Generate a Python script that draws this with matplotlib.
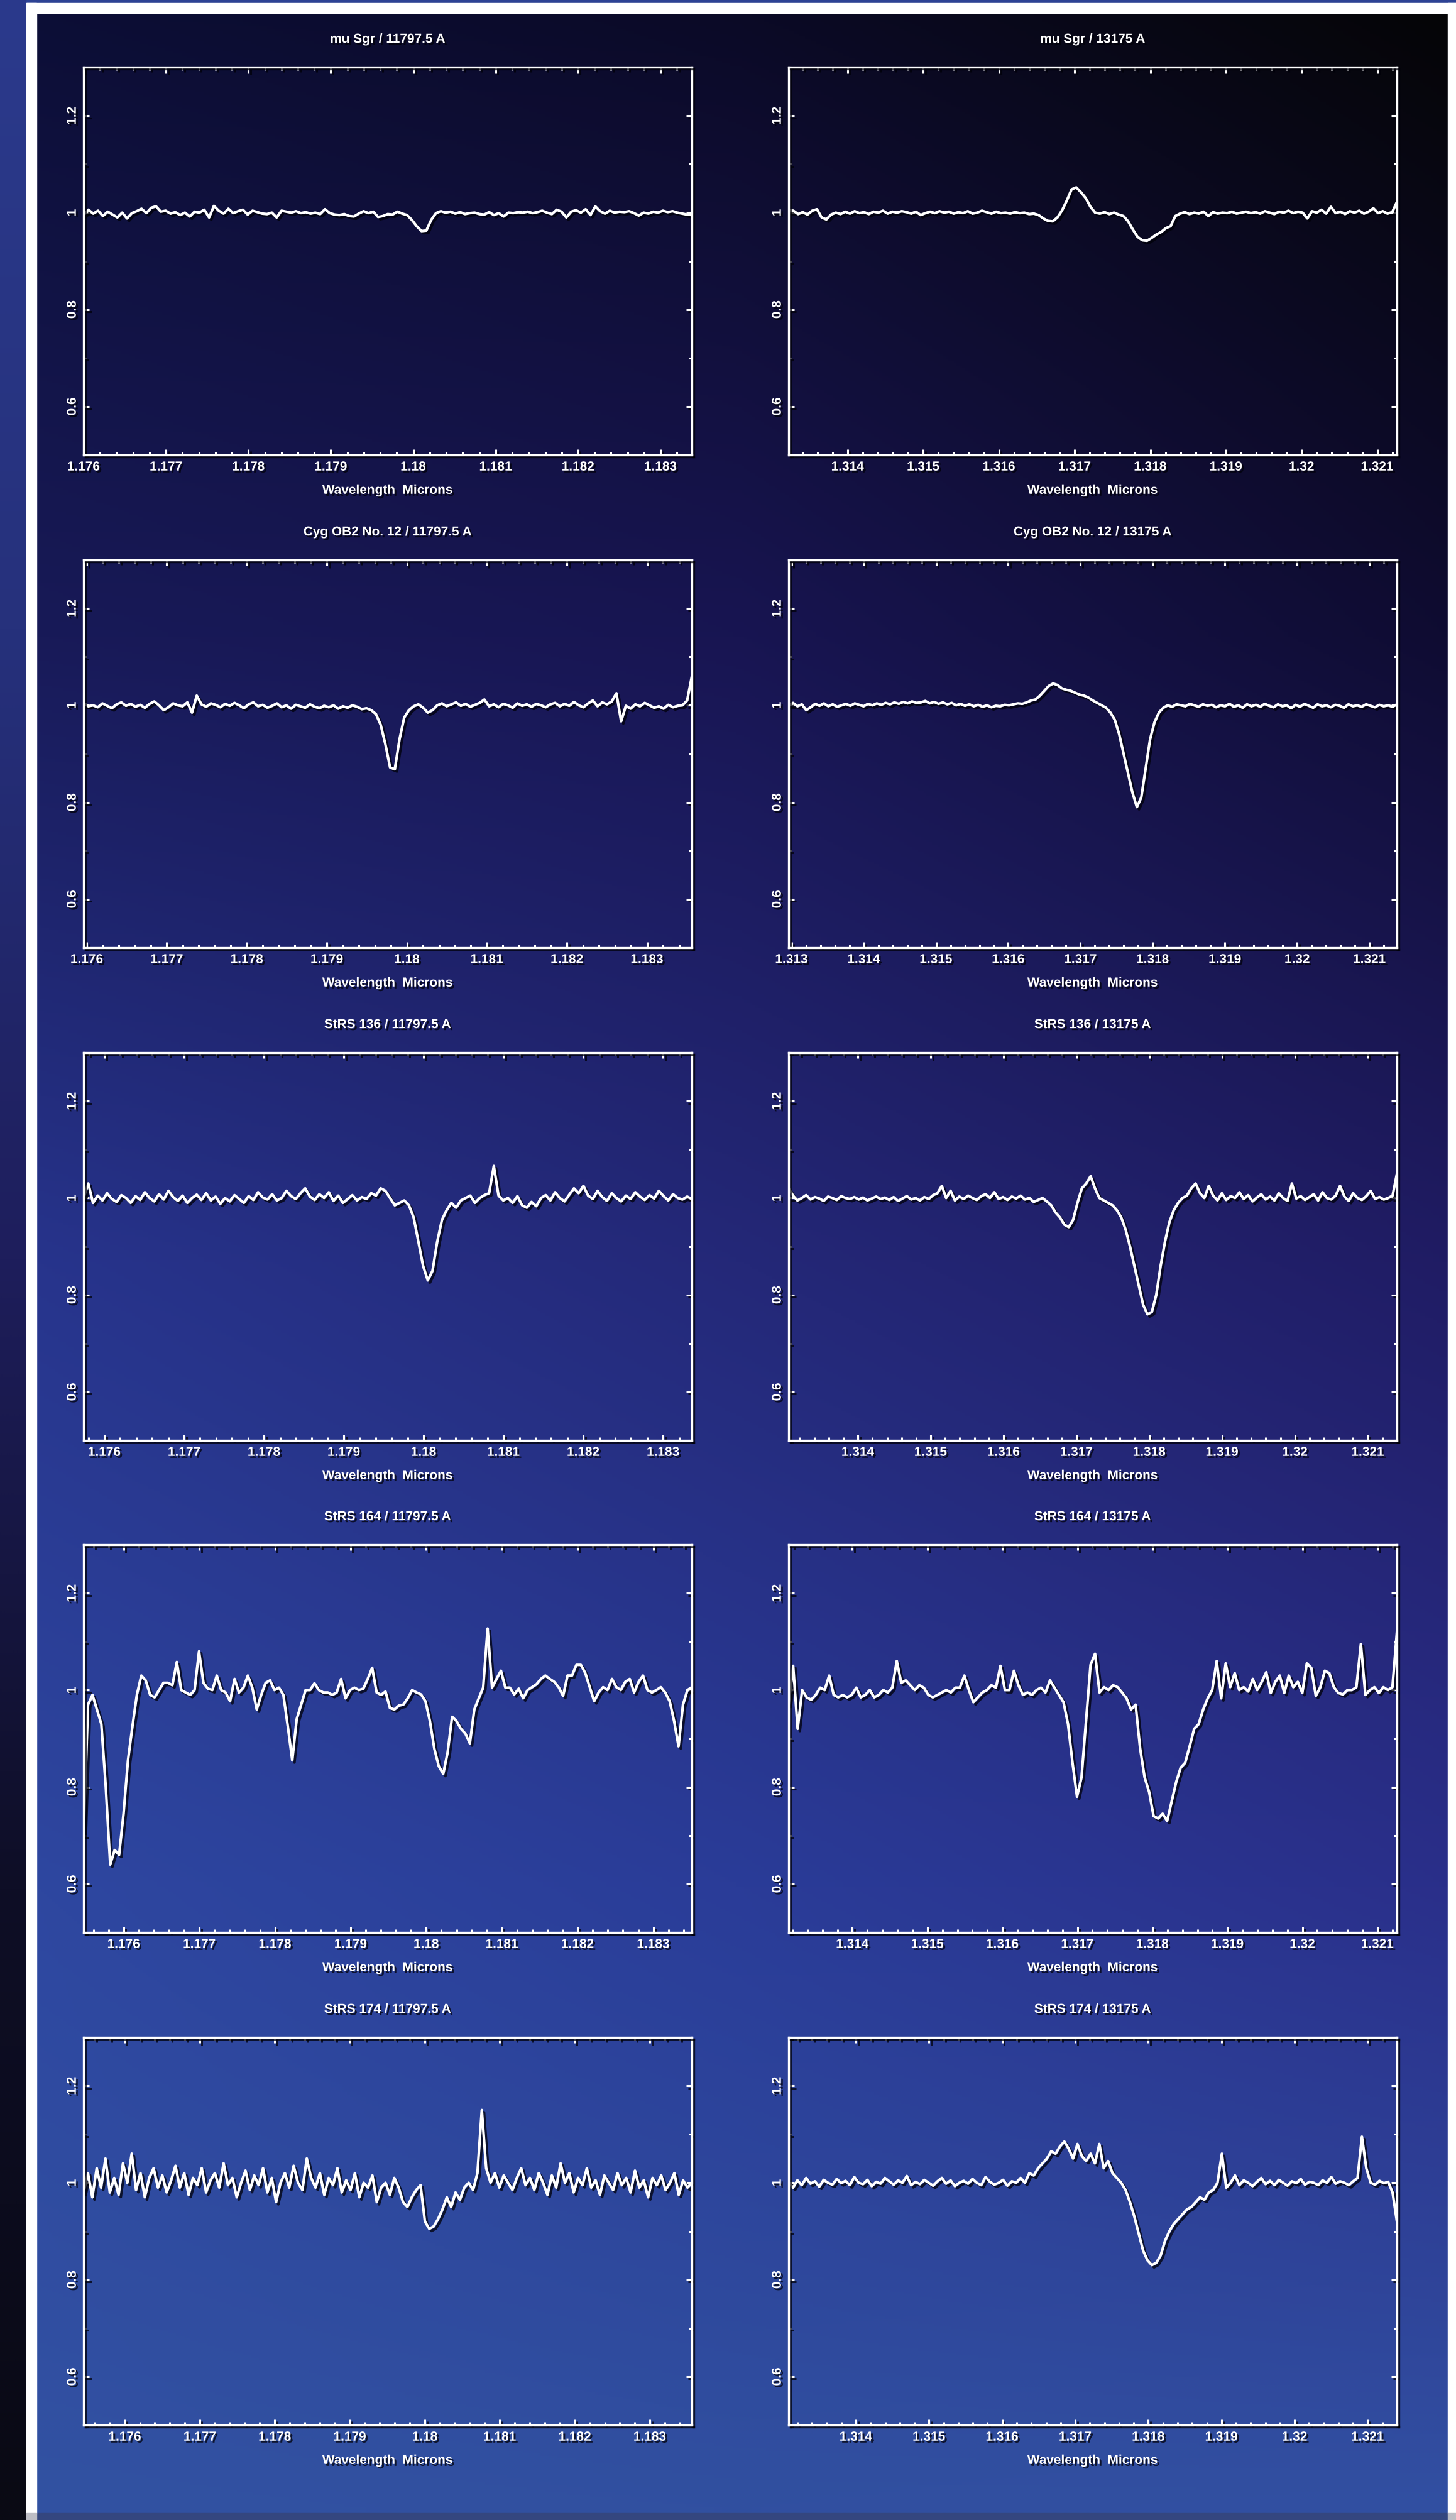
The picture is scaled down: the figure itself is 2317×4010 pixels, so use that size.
import numpy as np
import matplotlib
matplotlib.use("Agg")
import matplotlib.pyplot as plt
from matplotlib import patheffects as pe
from matplotlib.colors import to_rgb
from matplotlib.patches import Rectangle
from matplotlib.ticker import MultipleLocator

plt.rcParams['font.family'] = ['Liberation Sans', 'DejaVu Sans']
plt.rcParams['font.weight'] = 'bold'

# panel titles (star / line), left column = 11797.5 A, right column = 13175 A
titles = ["mu Sgr / 11797.5 A", "mu Sgr / 13175 A",
          "Cyg OB2 No. 12 / 11797.5 A", "Cyg OB2 No. 12 / 13175 A",
          "StRS 136 / 11797.5 A", "StRS 136 / 13175 A",
          "StRS 164 / 11797.5 A", "StRS 164 / 13175 A",
          "StRS 174 / 11797.5 A", "StRS 174 / 13175 A"]

# wavelength window of every panel (microns)
wl_windows = [(1.17600, 1.18338), (1.31322, 1.32126),
              (1.17596, 1.18356), (1.31296, 1.32138),
              (1.17574, 1.18336), (1.31305, 1.32140),
              (1.17547, 1.18351), (1.31315, 1.32126),
              (1.17545, 1.18356), (1.31308, 1.32140)]

xticks_j = [1.176, 1.177, 1.178, 1.179, 1.18, 1.181, 1.182, 1.183]
xticks_pa = [1.314, 1.315, 1.316, 1.317, 1.318, 1.319, 1.32, 1.321]
xticks_pa_wide = [1.313, 1.314, 1.315, 1.316, 1.317, 1.318, 1.319, 1.32, 1.321]
yticks = [0.6, 0.8, 1.0, 1.2]
ytick_labels = ['0.6', '0.8', '1', '1.2']

# normalised flux, evenly sampled across each window
flux_musgr_j = [
    0.995, 1.006, 0.998, 1.004, 0.993, 1.002, 0.996, 0.990, 1.000, 0.988,
    0.999, 1.003, 1.008, 0.999, 1.010, 1.013, 1.002, 1.004, 0.998, 1.001,
    0.995, 1.000, 0.992, 1.002, 1.000, 1.006, 0.990, 1.014, 1.004, 0.998,
    1.008, 0.999, 1.003, 1.006, 0.996, 1.004, 1.001, 0.998, 0.997, 1.000,
    0.990, 1.004, 1.002, 1.000, 1.003, 0.999, 1.001, 0.998, 1.000, 0.997,
    1.007, 0.999, 0.996, 0.995, 0.997, 0.993, 0.992, 0.998, 1.003, 0.999,
    1.002, 0.991, 0.993, 0.997, 0.996, 1.002, 0.998, 0.995, 0.985, 0.972,
    0.962, 0.963, 0.985, 0.999, 1.003, 1.000, 1.002, 0.998, 1.001, 0.997,
    0.999, 1.000, 0.997, 0.996, 1.001, 0.995, 0.999, 0.992, 1.000, 0.999,
    1.001, 1.000, 1.002, 0.999, 1.001, 1.004, 1.000, 0.997, 1.006, 1.002,
    0.990, 1.002, 1.005, 1.000, 1.007, 0.995, 1.013, 1.003, 0.998, 1.004,
    1.000, 1.002, 1.001, 1.003, 0.999, 0.994, 1.000, 0.998, 1.002, 1.000,
    1.004, 1.001, 1.003, 1.000, 0.998, 0.996, 0.995]

flux_musgr_pa = [
    1.005, 1.004, 0.997, 1.001, 0.996, 1.004, 1.007, 0.990, 0.986, 0.996,
    1.000, 0.997, 1.002, 0.998, 1.003, 0.999, 1.001, 0.997, 1.002, 1.000,
    1.004, 0.998, 1.002, 1.000, 1.003, 1.001, 0.998, 1.002, 0.995, 0.999,
    1.002, 0.999, 1.003, 1.000, 1.002, 0.998, 1.001, 0.999, 1.003, 0.998,
    1.000, 1.004, 1.001, 0.998, 1.002, 0.999, 1.000, 0.998, 1.001, 0.999,
    1.000, 0.997, 0.998, 0.995, 0.988, 0.983, 0.982, 0.990, 1.005, 1.025,
    1.048, 1.052, 1.042, 1.030, 1.012, 1.000, 0.998, 1.001, 0.997, 1.000,
    0.996, 0.993, 0.982, 0.965, 0.950, 0.943, 0.942, 0.948, 0.955, 0.960,
    0.968, 0.972, 0.993, 0.998, 1.001, 0.997, 1.000, 0.998, 1.002, 0.993,
    1.001, 0.998, 1.000, 0.999, 1.002, 0.998, 1.000, 1.002, 0.999, 1.001,
    0.998, 1.003, 1.000, 0.997, 1.002, 1.000, 1.004, 0.999, 1.002, 1.000,
    0.988, 1.003, 1.000, 1.006, 0.998, 1.012, 0.999, 1.002, 0.997, 1.003,
    1.000, 1.004, 0.998, 1.002, 1.009, 0.999, 1.003, 0.998, 1.001, 1.022]

flux_cyg_j = [
    1.005, 0.998, 1.000, 0.996, 1.004, 0.999, 0.994, 1.002, 1.006, 0.999,
    1.003, 0.997, 1.001, 0.995, 1.003, 1.008, 1.000, 0.990, 0.996, 1.004,
    1.000, 0.998, 1.006, 0.985, 1.020, 1.002, 0.997, 1.004, 1.001, 0.996,
    1.003, 0.999, 1.005, 1.000, 0.994, 1.002, 1.006, 0.998, 1.001, 0.995,
    0.999, 1.004, 0.996, 1.000, 0.993, 1.001, 0.998, 0.995, 1.002, 0.997,
    0.994, 0.999, 0.996, 1.000, 0.993, 0.998, 0.995, 1.000, 0.997, 0.992,
    0.994, 0.990, 0.982, 0.960, 0.920, 0.872, 0.868, 0.930, 0.975, 0.990,
    0.998, 1.002, 0.995, 0.985, 0.990, 1.000, 1.004, 0.998, 1.002, 1.006,
    0.999, 1.003, 0.997, 1.001, 1.005, 1.012, 0.998, 1.002, 0.996, 1.003,
    1.000, 0.995, 1.004, 0.999, 1.002, 0.997, 1.003, 1.000, 0.996, 1.002,
    1.005, 0.998, 1.003, 0.999, 1.007, 1.000, 0.996, 1.004, 1.010, 0.998,
    1.006, 1.002, 1.008, 1.025, 0.967, 0.999, 0.993, 1.002, 0.998, 1.005,
    1.000, 0.995, 0.998, 0.993, 1.001, 0.996, 0.999, 1.000, 1.010, 1.060]

flux_cyg_pa = [
    1.000, 1.005, 0.998, 1.002, 0.990, 0.996, 1.003, 0.999, 1.004, 0.998,
    1.002, 0.997, 1.000, 1.003, 0.999, 1.004, 1.001, 0.998, 1.003, 1.000,
    1.004, 1.001, 1.005, 1.002, 1.006, 1.003, 1.007, 1.004, 1.008, 1.005,
    1.006, 1.009, 1.004, 1.007, 1.003, 1.006, 1.002, 1.005, 1.000, 1.003,
    0.999, 1.002, 0.998, 1.001, 0.997, 1.000, 0.996, 0.999, 0.998, 1.001,
    1.000, 1.002, 1.004, 1.003, 1.006, 1.010, 1.012, 1.020, 1.030, 1.040,
    1.045, 1.042, 1.035, 1.032, 1.030, 1.026, 1.022, 1.020, 1.016, 1.010,
    1.005, 1.000, 0.995, 0.985, 0.970, 0.940, 0.900, 0.860, 0.820, 0.790,
    0.810, 0.870, 0.930, 0.965, 0.985, 0.995, 1.000, 0.997, 1.002, 1.000,
    0.998, 1.003, 1.000, 0.997, 1.002, 0.999, 1.001, 0.996, 1.000, 0.998,
    1.003, 0.997, 1.000, 0.995, 1.002, 0.998, 1.001, 0.997, 1.003, 0.999,
    0.996, 1.002, 0.998, 1.000, 0.994, 1.001, 0.997, 1.003, 0.999, 0.995,
    1.002, 0.998, 1.000, 0.996, 1.001, 0.999, 0.995, 1.002, 0.998, 1.000,
    0.997, 1.002, 0.999, 0.996, 1.001, 0.998, 1.000, 0.997, 1.002]

flux_strs136_j = [
    1.000, 1.030, 0.990, 1.005, 0.995, 1.010, 0.998, 0.992, 1.006, 1.000,
    0.990, 1.004, 0.996, 1.012, 1.000, 0.993, 1.008, 0.997, 1.015, 1.002,
    0.994, 1.005, 0.990, 1.000, 1.007, 0.996, 1.010, 0.995, 1.003, 0.988,
    1.000, 0.993, 1.006, 0.998, 0.990, 1.004, 0.996, 1.012, 1.001, 0.997,
    1.008, 0.995, 1.000, 1.015, 1.004, 0.998, 1.010, 1.020, 1.003, 0.996,
    1.008, 1.000, 1.012, 0.994, 1.005, 0.990, 0.998, 1.006, 0.995, 1.002,
    0.998, 1.010, 1.005, 1.020, 1.015, 1.000, 0.985, 0.990, 0.995, 0.985,
    0.960, 0.910, 0.860, 0.830, 0.850, 0.910, 0.955, 0.975, 0.990, 0.980,
    0.995, 1.000, 1.005, 0.990, 1.000, 1.006, 1.010, 1.066, 1.005, 0.995,
    1.000, 0.990, 1.004, 0.985, 0.980, 0.992, 0.983, 1.000, 1.006, 0.995,
    1.012, 1.000, 0.993, 1.007, 1.020, 1.010, 1.025, 1.005, 0.998, 1.015,
    1.002, 0.994, 1.010, 1.000, 0.993, 1.005, 0.998, 1.012, 1.003, 0.996,
    1.006, 0.999, 1.015, 1.004, 0.995, 1.008, 1.000, 0.997, 1.003, 0.998]

flux_strs136_pa = [
    1.020, 1.005, 0.995, 1.000, 1.006, 0.997, 1.002, 0.999, 0.994, 1.003,
    1.000, 0.996, 1.004, 1.000, 0.998, 1.002, 0.997, 1.001, 0.995, 0.999,
    1.003, 0.998, 1.001, 0.996, 1.002, 0.994, 0.999, 1.004, 0.997, 1.000,
    0.995, 1.002, 0.998, 1.006, 1.010, 1.025, 1.000, 1.015, 0.995, 1.003,
    0.998, 1.005, 1.000, 0.996, 1.004, 1.008, 1.000, 1.012, 0.998, 1.002,
    0.996, 1.003, 0.999, 1.005, 0.997, 1.000, 0.992, 0.996, 1.000, 0.993,
    0.985, 0.970, 0.960, 0.945, 0.940, 0.955, 0.990, 1.020, 1.030, 1.045,
    1.020, 1.000, 0.995, 0.990, 0.985, 0.975, 0.960, 0.935, 0.900, 0.860,
    0.820, 0.780, 0.760, 0.765, 0.800, 0.860, 0.910, 0.950, 0.975, 0.990,
    1.000, 1.005, 1.020, 1.030, 1.010, 1.000, 1.025, 1.005, 0.995, 1.010,
    0.996, 1.004, 1.000, 1.012, 0.998, 1.006, 0.993, 1.001, 1.008, 0.997,
    1.003, 0.995, 1.010, 1.000, 0.994, 1.030, 0.999, 1.004, 0.996, 1.002,
    1.008, 0.995, 1.012, 1.000, 0.997, 1.005, 1.025, 1.003, 0.994, 1.010,
    1.000, 0.996, 1.004, 1.015, 0.998, 1.002, 0.997, 1.000, 1.005, 1.050]

flux_strs164_j = [
    0.700, 0.970, 0.990, 0.960, 0.930, 0.800, 0.640, 0.670, 0.660, 0.745,
    0.855, 0.925, 0.990, 1.030, 1.020, 0.990, 0.985, 1.000, 1.015, 1.015,
    1.010, 1.058, 1.000, 0.995, 0.990, 1.000, 1.080, 1.015, 1.003, 1.000,
    1.030, 1.000, 0.995, 0.977, 1.023, 0.995, 1.005, 1.030, 1.005, 0.960,
    0.990, 1.015, 1.020, 1.000, 1.005, 0.990, 0.925, 0.855, 0.940, 0.970,
    1.000, 1.000, 1.014, 1.000, 0.995, 0.995, 0.990, 0.995, 1.023, 0.983,
    1.000, 1.005, 1.000, 1.003, 1.023, 1.046, 0.995, 0.990, 0.997, 0.963,
    0.960, 0.968, 0.970, 0.983, 1.000, 0.995, 0.991, 0.977, 0.936, 0.879,
    0.843, 0.827, 0.872, 0.945, 0.936, 0.920, 0.910, 0.890, 0.960, 0.983,
    1.005, 1.127, 1.005, 1.023, 1.040, 1.005, 1.005, 0.991, 1.003, 0.983,
    1.000, 1.006, 1.012, 1.023, 1.030, 1.023, 1.017, 1.006, 0.988, 1.030,
    1.030, 1.052, 1.052, 1.035, 1.006, 0.977, 0.995, 1.006, 1.000, 1.023,
    1.006, 1.000, 1.017, 1.023, 0.995, 1.017, 1.030, 1.000, 0.995, 1.000,
    1.006, 0.995, 0.977, 0.936, 0.884, 0.970, 1.000, 1.006]

flux_strs164_pa = [
    0.970, 1.050, 0.920, 1.000, 0.985, 0.980, 0.990, 1.005, 1.000, 1.030,
    0.990, 0.985, 0.990, 0.985, 0.990, 1.005, 0.985, 0.990, 1.000, 0.985,
    0.990, 1.000, 0.995, 1.005, 1.060, 1.015, 1.020, 1.010, 1.000, 1.010,
    1.005, 0.990, 0.985, 0.990, 0.995, 1.000, 0.995, 1.005, 1.005, 1.030,
    1.000, 0.975, 0.985, 0.995, 1.000, 1.010, 1.005, 1.050, 1.000, 1.000,
    1.040, 1.010, 0.990, 0.995, 0.990, 1.000, 1.005, 0.995, 1.020, 1.005,
    0.990, 0.975, 0.930, 0.850, 0.780, 0.820, 0.936, 1.052, 1.075, 0.995,
    1.006, 1.000, 1.010, 1.006, 0.995, 0.983, 0.960, 0.970, 0.880, 0.820,
    0.790, 0.740, 0.735, 0.745, 0.730, 0.770, 0.810, 0.840, 0.850, 0.884,
    0.920, 0.930, 0.960, 0.983, 1.000, 1.060, 0.983, 1.055, 1.006, 1.035,
    1.000, 1.006, 0.997, 1.023, 1.000, 1.017, 1.037, 0.994, 1.017, 1.030,
    0.994, 1.030, 1.006, 1.017, 0.994, 1.055, 1.046, 0.988, 1.006, 1.040,
    1.035, 1.006, 0.994, 0.991, 1.000, 1.000, 1.006, 1.095, 0.990, 1.000,
    1.006, 0.994, 1.006, 1.000, 1.006, 1.120]

flux_strs174_j = [
    0.980, 1.020, 0.970, 1.030, 0.990, 1.050, 0.980, 1.010, 0.975, 1.040,
    1.000, 1.060, 0.985, 1.020, 0.970, 1.010, 1.030, 0.990, 1.015, 0.980,
    1.005, 1.035, 0.990, 1.020, 0.975, 1.010, 0.995, 1.030, 0.980, 1.005,
    1.020, 0.990, 1.040, 0.995, 1.010, 0.970, 1.000, 1.025, 0.985, 1.015,
    0.995, 1.030, 0.980, 1.010, 0.960, 1.000, 1.020, 0.990, 1.035, 1.000,
    0.985, 1.050, 1.010, 0.990, 1.020, 0.975, 1.010, 0.995, 1.030, 0.980,
    1.005, 0.985, 1.020, 0.970, 1.000, 0.990, 1.015, 0.960, 0.990, 1.000,
    0.975, 1.010, 0.990, 0.960, 0.950, 0.970, 0.985, 0.995, 0.920, 0.905,
    0.910, 0.925, 0.945, 0.970, 0.950, 0.980, 0.965, 0.990, 1.000, 0.985,
    1.020, 1.150, 1.030, 1.000, 1.020, 0.990, 1.015, 1.000, 0.985, 1.010,
    1.030, 0.995, 1.010, 0.985, 1.020, 1.000, 0.975, 1.015, 0.990, 1.040,
    1.000, 1.020, 0.980, 1.010, 0.995, 1.030, 0.990, 1.005, 0.975, 1.015,
    1.000, 0.985, 1.020, 0.995, 1.010, 0.980, 1.025, 0.990, 1.005, 0.970,
    1.010, 0.995, 1.015, 0.985, 1.000, 1.020, 0.975, 1.005, 0.990, 1.000]

flux_strs174_pa = [
    1.000, 0.990, 1.005, 0.995, 1.010, 0.998, 1.003, 0.992, 1.006, 1.000,
    0.996, 1.008, 0.999, 1.004, 0.995, 1.012, 1.000, 0.997, 1.006, 0.993,
    1.002, 0.998, 1.010, 1.003, 0.996, 1.005, 1.000, 1.014, 0.995, 1.002,
    0.997, 1.006, 1.000, 0.994, 1.003, 1.010, 0.998, 1.005, 0.993, 1.000,
    1.004, 0.998, 1.008, 1.000, 0.995, 1.012, 1.002, 0.996, 1.000, 1.006,
    0.994, 1.003, 1.000, 1.010, 1.000, 1.020, 1.015, 1.030, 1.040, 1.050,
    1.065, 1.060, 1.075, 1.085, 1.070, 1.050, 1.080, 1.055, 1.045, 1.060,
    1.040, 1.080, 1.030, 1.045, 1.020, 1.010, 1.000, 0.985, 0.960, 0.930,
    0.895, 0.860, 0.840, 0.830, 0.835, 0.850, 0.880, 0.900, 0.915, 0.925,
    0.935, 0.945, 0.950, 0.960, 0.970, 0.965, 0.980, 0.985, 1.000, 1.060,
    0.990, 1.000, 1.015, 0.995, 1.005, 1.000, 0.993, 1.002, 1.010, 0.997,
    1.004, 0.995, 1.006, 1.000, 0.994, 1.003, 0.999, 1.008, 0.996, 1.002,
    1.000, 0.995, 1.005, 1.000, 1.012, 0.998, 1.003, 1.000, 0.995, 1.003,
    1.010, 1.095, 1.030, 1.000, 0.996, 1.004, 0.999, 1.002, 0.980, 0.920]

spectra = [flux_musgr_j, flux_musgr_pa, flux_cyg_j, flux_cyg_pa,
           flux_strs136_j, flux_strs136_pa, flux_strs164_j, flux_strs164_pa,
           flux_strs174_j, flux_strs174_pa]
panel_xticks = [xticks_j, xticks_pa, xticks_j, xticks_pa_wide, xticks_j,
                xticks_pa, xticks_j, xticks_pa, xticks_j, xticks_pa]

# page background colours (rows top->bottom, columns left->right)
bg_colors = [['#0c0e36', '#0b0a26', '#050506'],
             ['#181a58', '#181552', '#0f0c32'],
             ['#27348c', '#242878', '#201c64'],
             ['#2e47a0', '#2a3c98', '#2a2f8a'],
             ['#3252a2', '#3150a0', '#3250a2']]
# left edge strip, top to bottom
strip_colors = ['#2b3a8c', '#26317c', '#1e1e5c', '#0e0e26', '#0a0a14']

W, H = 2317, 4010
fig = plt.figure(figsize=(W / 100, H / 100), dpi=100)

# --- background: gradient page, dark left strip, white frame ---
bg = fig.add_axes([0, 0, 1, 1], zorder=-5)
bg.set_xlim(0, W)
bg.set_ylim(H, 0)
bg.axis('off')
grid = np.array([[to_rgb(c) for c in row] for row in bg_colors])
dx = (2304 - 58) / 2
dy = (3999 - 21) / 4
bg.imshow(grid, extent=(58 - dx / 2, 2304 + dx / 2, 3999 + dy / 2, 21 - dy / 2),
          interpolation='bilinear', aspect='auto', zorder=0)
strip = np.array([[to_rgb(c)] for c in strip_colors])
sy = H / 4
bg.imshow(strip, extent=(0, 42, H + sy / 2, -sy / 2), interpolation='bilinear',
          aspect='auto', zorder=1)
bg.add_patch(Rectangle((42, 0), W - 42, 4, color='#2d4294', zorder=2))
bg.add_patch(Rectangle((42, 3999), W - 42, 11, color='#34467f', zorder=2))
bg.add_patch(Rectangle((42, 4), 16, 3995, color='white', zorder=3))
bg.add_patch(Rectangle((42, 4), W - 42, 17, color='white', zorder=3))
bg.add_patch(Rectangle((2304, 4), 13, 3995, color='white', zorder=3))
bg.add_patch(Rectangle((42, 3999), 16, 11, color='#bdbdc4', zorder=3))
bg.add_patch(Rectangle((2304, 3999), 13, 11, color='#bdbdc4', zorder=3))

line_fx = [pe.SimpleLineShadow(offset=(2.5, -2.5), shadow_color='#000008', alpha=0.75),
           pe.Normal()]
text_fx = [pe.withSimplePatchShadow(offset=(2.2, -2.2), shadow_rgbFace='#000008',
                                    alpha=0.75)]

col_left = [133, 1255]
row_top = [107, 891, 1675, 2458, 3242]
ax_w, ax_h = 968, 617

for i, (title, flux) in enumerate(zip(titles, spectra)):
    r, c = divmod(i, 2)
    ax = fig.add_axes([col_left[c] / W, 1 - (row_top[r] + ax_h) / H, ax_w / W, ax_h / H])
    ax.patch.set_alpha(0)

    lo, hi = wl_windows[i]
    wl = np.linspace(lo, hi, len(flux))
    ax.plot(wl, flux, color='white', lw=3.0, solid_joinstyle='round',
            path_effects=line_fx)

    ax.set_xlim(lo, hi)
    ax.set_ylim(0.5, 1.3)
    ticks = panel_xticks[i]
    ax.set_xticks(ticks, labels=[f'{t:g}' for t in ticks])
    ax.xaxis.set_minor_locator(MultipleLocator(0.0002))
    ax.set_yticks(yticks, labels=ytick_labels, rotation=90, va='center')
    ax.yaxis.set_minor_locator(MultipleLocator(0.1))

    ax.tick_params(which='both', direction='in', top=True, right=True,
                   color='white', width=2.2, labelcolor='white', labelsize=15)
    ax.tick_params(axis='x', pad=7)
    ax.tick_params(axis='y', pad=6)
    ax.tick_params(which='major', length=6.5)
    ax.tick_params(which='minor', length=3.5)

    for sp in ax.spines.values():
        sp.set_color('white')
        sp.set_linewidth(2.4)
        sp.set_path_effects(line_fx)

    for axis in (ax.xaxis, ax.yaxis):
        for t in axis.get_major_ticks() + axis.get_minor_ticks():
            t.tick1line.set_path_effects(line_fx)
            t.tick2line.set_path_effects(line_fx)
            t.label1.set_path_effects(text_fx)

    ax.set_title(title, color='white', fontsize=15, fontweight='bold', pad=28,
                 path_effects=text_fx)
    ax.set_xlabel('Wavelength  Microns', color='white', fontsize=15,
                  fontweight='bold', labelpad=13, path_effects=text_fx)

fig.savefig('out.png', dpi=100)
